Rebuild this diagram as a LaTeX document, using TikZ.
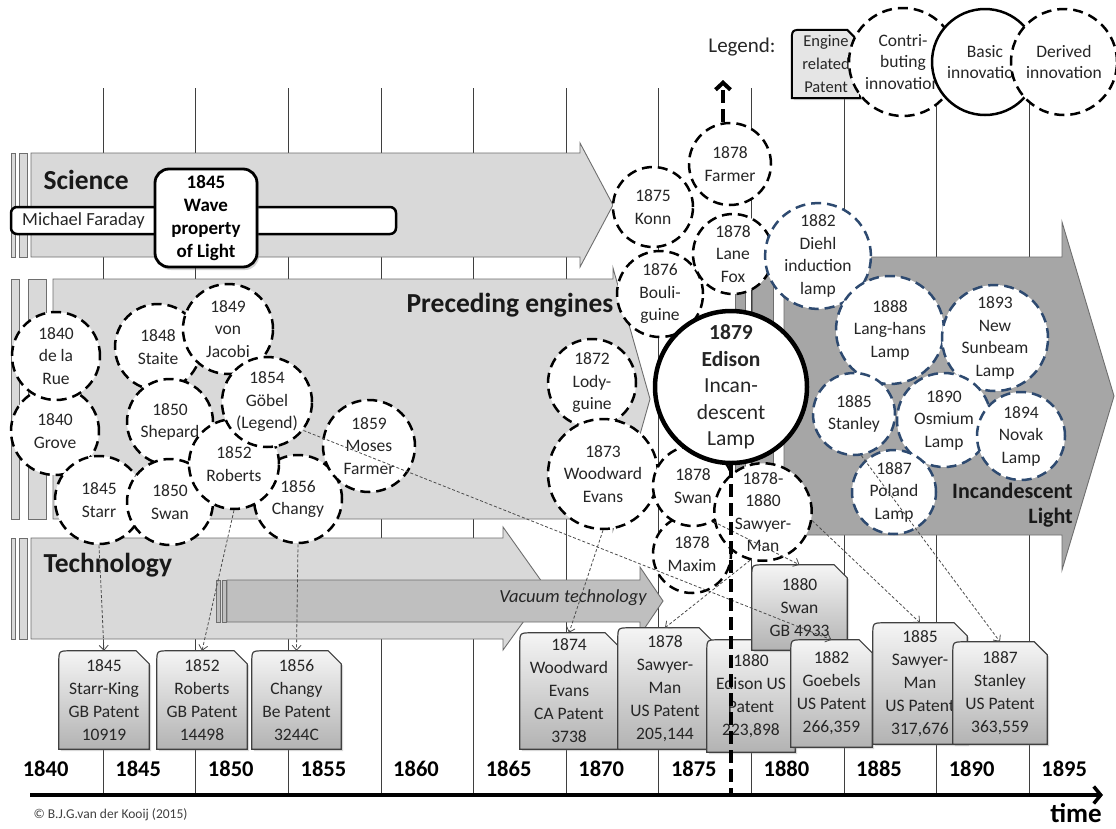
\documentclass[tikz,border=0pt]{standalone}
\usepackage{fontspec}
\setmainfont{Carlito}
\usetikzlibrary{arrows.meta,calc,shadows}
\definecolor{band}{HTML}{D9D9D9}
\definecolor{bandline}{HTML}{6E6E6E}
\definecolor{vac}{HTML}{BFBFBF}
\definecolor{inc}{HTML}{A6A6A6}
\definecolor{bluec}{HTML}{2E4A70}
\definecolor{gridc}{HTML}{3F3F3F}
\definecolor{txt}{HTML}{262626}
\tikzset{
 bandshape/.style={fill=band, draw=bandline, line width=0.9pt},
 dcircle/.style={circle, draw=black, fill=white, line width=2.5pt, dash pattern=on 10pt off 6pt, inner sep=0pt, align=center, text=txt, font=\fontsize{17.5}{22.5}\selectfont},
 bcircle/.style={dcircle, draw=bluec},
 pframe/.style={inner sep=0pt, draw=none},
 pfill/.style={draw=black!75, line width=1.2pt, top color=black!4, bottom color=black!30, drop shadow={opacity=0.3, shadow xshift=2pt, shadow yshift=-2pt}},
 ptext/.style={align=center, text=txt, font=\fontsize{17.5}{23}\selectfont},
 conn/.style={draw=black!70, line width=0.8pt, dash pattern=on 3pt off 2pt, -{Straight Barb[length=5pt,width=9pt]}},
 gridline/.style={draw=gridc, line width=0.9pt},
 yearlbl/.style={font=\fontsize{22.5}{27}\selectfont\bfseries, text=black},
 bandlbl/.style={font=\fontsize{27.5}{32}\selectfont\bfseries, text=black!90},
 edline/.style={draw=black, line width=4pt, dash pattern=on 13pt off 6pt},
}
\newcommand\patentbox[7][]{%
 \node[pframe, minimum width={(#5-#3)*1pt}, minimum height={(#6-#4)*1pt}] (#2) at ({(#3+#5)/2},{(#4+#6)/2}) {};
 \path[pfill,#1] (#2.south west) -- ($(#2.north west)+(0,12)$) .. controls (#2.north west) .. ($(#2.north west)+(12,0)$) -- ($(#2.north east)+(-13,0)$) -- ($(#2.north east)+(0,13)$) -- (#2.south east) -- cycle;
 \node[ptext] at (#2.center) {#7};
}
\begin{document}
\begin{tikzpicture}[x=1pt,y=-1pt]
\useasboundingbox (0,0) rectangle (1116,828);
\fill[white] (0,0) rectangle (1116,828);
% grid lines
\foreach \k in {0,...,10}{
  \draw[gridline] ({103.2+92.6*\k},88) -- ({103.2+92.6*\k},795);
}
% Science band
\path[bandshape] (11,153) rectangle (15,257);
\path[bandshape] (19,153) rectangle (27,257);
\path[bandshape] (31,153) -- (580,153) -- (580,143) -- (613,205) -- (580,267) -- (580,257) -- (31,257) -- cycle;
% Preceding engines band
\path[bandshape] (11,279) rectangle (19,519);
\path[bandshape] (28,279) rectangle (46,519);
\path[bandshape] (53,279) -- (613,279) -- (613,268) -- (650,399) -- (613,530) -- (613,519) -- (53,519) -- cycle;
% Technology band
\path[bandshape] (11,538) rectangle (15,639);
\path[bandshape] (19,538) rectangle (27,639);
\path[bandshape] (31,538) -- (503,538) -- (503,527) -- (547,589) -- (503,650) -- (503,639) -- (31,639) -- cycle;
% Vacuum technology
\path[bandshape, fill=vac] (216,580) rectangle (220,622);
\path[bandshape, fill=vac] (222,580) rectangle (226,622);
\path[bandshape, fill=vac] (227,580) -- (640,580) -- (640,567) -- (663,601) -- (640,635) -- (640,622) -- (227,622) -- cycle;
% Incandescent band
\path[bandshape, fill=inc] (735,257) rectangle (745,535);
\path[bandshape, fill=inc] (752,257) rectangle (773,535);
\path[bandshape, fill=inc] (784,257) -- (1062,257) -- (1062,222) -- (1114,396) -- (1062,570) -- (1062,535) -- (784,535) -- cycle;
% Faraday and wave
\node[draw=black, line width=2.5pt, rounded corners=6pt, fill=white, minimum width=385pt, minimum height=27pt, inner sep=0pt] (Faraday) at (203.5,220.5) {};
\node[anchor=west, text=txt, font=\fontsize{18.5}{22}\selectfont, inner sep=0pt] (FaradayLbl) at (22,221) {Michael Faraday};
\node[draw=black, line width=2.8pt, rounded corners=14pt, fill=white, minimum width=102pt, minimum height=98pt, inner sep=0pt, align=center, font=\fontsize{19}{23}\selectfont\bfseries, drop shadow={opacity=0.35,shadow xshift=2pt,shadow yshift=-3pt}] (Wave) at (206,218) {1845\\Wave\\property\\of Light};
% band labels
\node[bandlbl, anchor=west] (ScienceLbl) at (40,180) {Science};
\node[bandlbl, anchor=west] (TechLbl) at (40,565) {Technology};
\node[bandlbl] (PrecLbl) at (510,305) {Preceding engines};
\node[font=\fontsize{18.5}{22}\selectfont\itshape, text=txt] (VacLbl) at (573,598) {Vacuum technology};
% left circles
\node[dcircle, minimum size=88pt] (Grove) at (55,431) {1840\\Grove};
\node[dcircle, minimum size=88pt] (DelaRue) at (56,356) {1840\\de la\\Rue};
\node[dcircle, minimum size=86pt] (Staite) at (158,347) {1848\\Staite};
\node[dcircle, minimum size=86pt] (Shepard) at (170,422) {1850\\Shepard};
\node[dcircle, minimum size=88pt] (Starr) at (99,500) {1845\\Starr};
\node[dcircle, minimum size=86pt] (Swan50) at (170,502) {1850\\Swan};
\node[dcircle, minimum size=88pt] (Changy) at (298,499) {1856\\Changy};
\node[dcircle, minimum size=90pt] (Roberts) at (234,464) {1852\\Roberts};
\node[dcircle, minimum size=90pt] (Jacobi) at (228,329) {1849\\von\\Jacobi};
\node[dcircle, minimum size=90pt] (Gobel) at (267,402) {1854\\Göbel\\(Legend)};
\node[dcircle, minimum size=92pt] (Moses) at (369,446) {1859\\Moses\\Farmer};
% middle circles
\node[dcircle, minimum size=88pt] (Lodyguine) at (592,383) {1872\\Lody-\\guine};
\node[dcircle, minimum size=110pt] (Woodward) at (603,474) {1873\\Woodward\\Evans};
\node[dcircle, minimum size=80pt] (Konn) at (653,207) {1875\\Konn};
\node[dcircle, minimum size=82pt] (Farmer) at (730,164) {1878\\Farmer};
\node[dcircle, minimum size=86pt] (Bouliguine) at (660,294) {1876\\Bouli-\\guine};
\node[dcircle, minimum size=80pt] (LaneFox) at (733,254) {1878\\Lane\\Fox};
\node[dcircle, minimum size=78pt] (Maxim) at (692,554) {1878\\Maxim};
\node[dcircle, minimum size=80pt] (Swan78) at (693,486) {1878\\Swan};
\node[dcircle, minimum size=90pt] (SawyerMan) at (763,512) {1878-\\1880\\Sawyer-\\Man};
\node[circle, draw=black, fill=white, line width=4.5pt, minimum size=152pt, inner sep=0pt, align=center, text=txt, font=\fontsize{21.5}{26.5}\selectfont] (Edison) at (731,387) {\textbf{1879}\\\textbf{Edison}\\Incan-\\descent\\Lamp};
% blue circles
\node[bcircle, minimum size=92pt] (Diehl) at (818,256) {1882\\Diehl\\induction\\lamp};
\node[bcircle, minimum size=108pt] (Langhans) at (890,330) {1888\\Lang-hans\\Lamp};
\node[bcircle, minimum size=106pt] (Sunbeam) at (995,338) {1893\\New\\Sunbeam\\Lamp};
\node[bcircle, minimum size=82pt] (Stanley) at (854,414) {1885\\Stanley};
\node[bcircle, minimum size=94pt] (Osmium) at (944,420) {1890\\Osmium\\Lamp};
\node[bcircle, minimum size=88pt] (Novak) at (1021,436) {1894\\Novak\\Lamp};
\node[bcircle, minimum size=84pt] (Poland) at (894,492) {1887\\Poland\\Lamp};
\node[anchor=east, align=right, font=\fontsize{22}{25}\selectfont\bfseries, text=black!90, inner sep=0pt] (IncLbl) at (1073,505) {Incandescent\\Light};
% legend
\node[font=\fontsize{21}{25}\selectfont, text=txt] (LegendLbl) at (742,47) {Legend:};
\patentbox[draw=black, line width=2pt, top color=black!10, bottom color=black!10]{pLegend}{792}{30}{860}{98}{\fontsize{16.5}{21.5}\selectfont Engine\\\fontsize{16.5}{21.5}\selectfont related\\\fontsize{16.5}{21.5}\selectfont Patent}
\node[dcircle, minimum size=108pt, font=\fontsize{17.5}{21.5}\selectfont] (Contrib) at (903,62) {Contri-\\buting\\innovation};
\node[circle, draw=black, fill=white, line width=2.5pt, minimum size=106pt, inner sep=0pt, align=center, text=txt, font=\fontsize{17.5}{21.5}\selectfont] (Basic) at (985,62) {Basic\\innovation};
\node[dcircle, minimum size=106pt, font=\fontsize{17.5}{21.5}\selectfont] (Derived) at (1064,62) {Derived\\innovation};
% patents
\patentbox{pStarr}{59}{651}{149}{749}{1845\\Starr-King\\GB Patent\\10919}
\patentbox{pRoberts}{157}{651}{247}{749}{1852\\Roberts\\GB Patent\\14498}
\patentbox{pChangy}{252}{651}{341}{749}{1856\\Changy\\Be Patent\\3244C}
\patentbox{pWoodward}{520}{633}{618}{749}{1874\\Woodward\\Evans\\CA Patent\\3738}
\patentbox{pSawyer78}{618}{628}{712}{749}{1878\\Sawyer-\\Man\\US Patent\\205,144}
\patentbox{pEdison}{707}{640}{795}{752}{1880\\Edison US\\Patent\\223,898}
\patentbox{pSwanGB}{752}{565}{847}{650}{1880\\Swan\\GB 4933}
\patentbox{pGoebels}{791}{640}{872}{747}{1882\\Goebels\\US Patent\\266,359}
\patentbox{pSawyer85}{873}{623}{967}{744}{1885\\Sawyer-\\Man\\US Patent\\317,676}
\patentbox{pStanley}{953}{642}{1047}{744}{1887\\Stanley\\US Patent\\363,559}
% connectors
\draw[conn] (Starr.south) -- (pStarr.north);
\draw[conn] (Roberts.south) -- (pRoberts.north);
\draw[conn] (Changy.south) -- (pChangy.north);
\draw[conn] (Gobel.-38) -- (pGoebels.north);
\draw[conn] (Woodward.south) -- (pWoodward.north);
\draw[conn] (SawyerMan.-105) -- (pSawyer78.north);
\draw[conn] (Swan78.-60) -- (pSwanGB.north);
\draw[conn] (SawyerMan.-10) -- (pSawyer85.north);
\draw[conn] (Stanley.-80) -- (pStanley.north);
% Edison timeline marker
\coordinate (edTop) at (723,80);
\coordinate (edBot) at (731,795);
\draw[edline] (Edison.south) -- (edBot);
\draw[edline, -{Straight Barb[length=7pt,width=15pt]}] (edTop |- Farmer.north) -- (edTop);
% axis
\coordinate (axL) at (30,795);
\coordinate (axR) at (1103,795);
\draw[line width=3.5pt, -{Straight Barb[length=7pt,width=17pt]}] (axL) -- (axR);
\foreach \y [count=\i from 0] in {1840,1845,1850,1855,1860,1865,1870,1875,1880,1885,1890,1895}{
  \node[yearlbl] (yr\y) at ({45.6+92.6*\i},769) {\y};
}
\node[font=\fontsize{27}{30}\selectfont\bfseries, inner sep=0pt] (timeLbl) at (1076,813) {time};
\node[anchor=west, font=\fontsize{13.5}{16}\selectfont, text=black!75] (copyLbl) at (30,815) {© B.J.G.van der Kooij (2015)};
\end{tikzpicture}
\end{document}
